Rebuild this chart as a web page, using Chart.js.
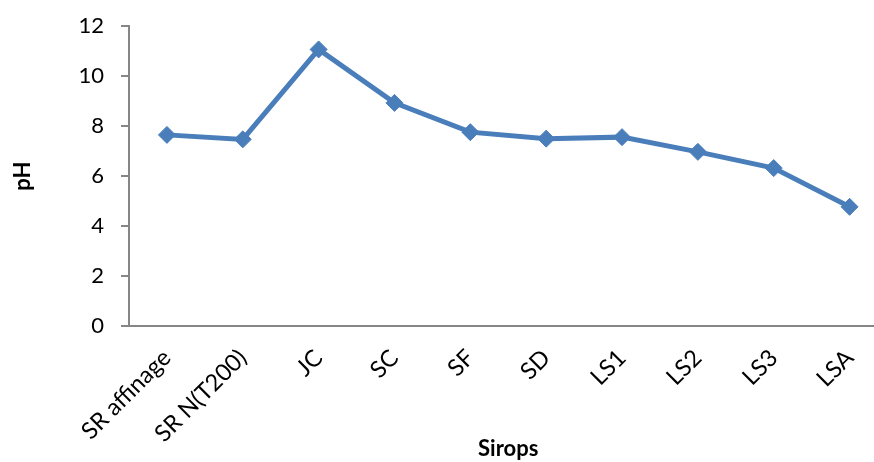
<!DOCTYPE html>
<html>
<head>
<meta charset="utf-8">
<script src="https://cdn.jsdelivr.net/npm/chart.js@4/dist/chart.umd.min.js"></script>
<style>
  html, body { margin: 0; padding: 0; background: #ffffff; overflow: hidden; }
  #wrap { width: 897px; height: 466px; margin-top: -4px; }
</style>
</head>
<body>
<div id="wrap"><canvas id="c" width="897" height="466"></canvas></div>
<script>
// pH des différents sirops
const categories = ['SR affinage', 'SR N(T200)', 'JC', 'SC', 'SF', 'SD', 'LS1', 'LS2', 'LS3', 'LSA'];
const phValues = [7.65, 7.47, 11.07, 8.93, 7.76, 7.5, 7.56, 6.97, 6.32, 4.77];
const yTicks = [0, 2, 4, 6, 8, 10, 12];

const axisGrey = '#868686';
const lineBlue = '#4a7ebb';
const fontFamily = 'Lato, "Open Sans", sans-serif';

new Chart(document.getElementById('c'), {
  type: 'line',
  data: {
    labels: categories,
    datasets: [{
      label: 'pH',
      data: phValues,
      borderColor: lineBlue,
      backgroundColor: lineBlue,
      borderWidth: 5,
      tension: 0,
      pointStyle: 'rectRot',
      pointRadius: 8.5,
      pointHoverRadius: 8.5,
      pointBackgroundColor: lineBlue,
      pointBorderColor: lineBlue,
      pointBorderWidth: 1
    }]
  },
  options: {
    responsive: false,
    animation: false,
    layout: { padding: { top: 21.5, left: 10, right: 3, bottom: 0 } },
    plugins: {
      legend: { display: false },
      tooltip: { enabled: false }
    },
    scales: {
      x: {
        type: 'category',
        offset: true,
        afterFit: (axis) => { axis.height = 136; },
        grid: { display: false },
        border: { display: true, color: axisGrey, width: 2 },
        ticks: {
          color: '#000',
          font: { family: fontFamily, size: 23.5 },
          minRotation: 45,
          maxRotation: 45,
          autoSkip: false,
          padding: 10
        },
        title: {
          display: true,
          text: 'Sirops',
          color: '#000',
          font: { family: fontFamily, size: 22, weight: 'bold' },
          padding: { top: 0, bottom: 0 }
        }
      },
      y: {
        min: 0,
        max: 12,
        afterFit: (axis) => { axis.width = 119; },
        afterBuildTicks: (axis) => { axis.ticks = yTicks.map(v => ({ value: v })); },
        grid: {
          display: true,
          drawOnChartArea: false,
          drawTicks: true,
          tickLength: 8,
          color: axisGrey,
          lineWidth: 2
        },
        border: { display: true, color: axisGrey, width: 2 },
        ticks: {
          color: '#000',
          font: { family: fontFamily, size: 22 },
          padding: 17
        },
        title: {
          display: true,
          text: 'pH',
          color: '#000',
          font: { family: fontFamily, size: 22, weight: 'bold' },
          padding: { top: 0, bottom: 0 }
        }
      }
    }
  }
});
</script>
</body>
</html>
